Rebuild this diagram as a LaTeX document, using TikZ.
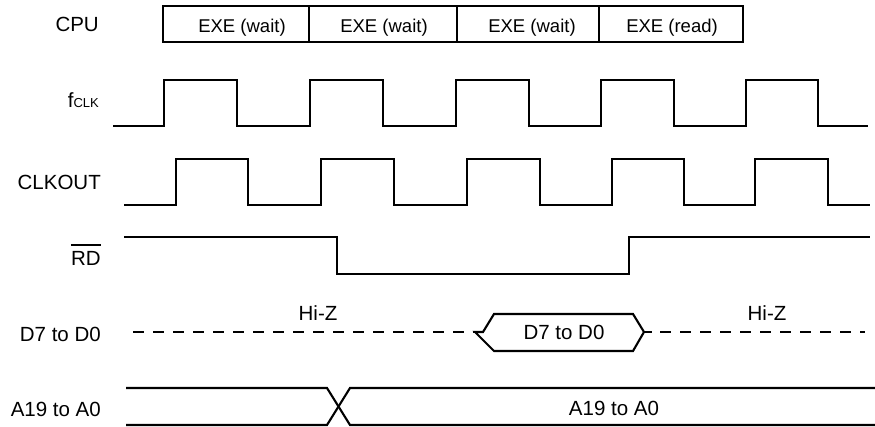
\documentclass[tikz,border=0pt]{standalone}
\usepackage{fontspec}
\setmainfont{Liberation Sans}
\begin{document}
\begin{tikzpicture}[x=1pt,y=-1pt,
  sig/.style={line width=2.1pt, line join=miter},
  busdash/.style={line width=2.1pt, dash pattern=on 11pt off 9pt},
  lbl/.style={font=\fontsize{20.5}{24}\selectfont, anchor=base east, inner sep=0pt},
  txt/.style={font=\fontsize{20.5}{24}\selectfont, anchor=base, inner sep=0pt},
  boxtxt/.style={font=\fontsize{18.5}{22}\selectfont, anchor=base, inner sep=0pt}]
\useasboundingbox (0,0) rectangle (875,427);

% labels
\node[lbl] (lcpu) at (99,31.5) {CPU};
\node[lbl] (lfclk) at (99,108) {f{\fontsize{13}{13}\selectfont CLK}};
\node[lbl] (lclkout) at (101,190) {CLKOUT};
\node[lbl] (lrd) at (101,265.5) {RD};
\draw[line width=1.6pt] ([yshift=6pt]lrd.north west) -- ([yshift=6pt]lrd.north east);
\node[lbl] (ld) at (101,341.5) {D7 to D0};
\node[lbl] (la) at (101,416.5) {A19 to A0};

% CPU cycles
\draw[sig] (163,6) rectangle (743,42);
\draw[sig] (309,6) -- (309,42);
\draw[sig] (457,6) -- (457,42);
\draw[sig] (599,6) -- (599,42);
\node[boxtxt] (c1) at (242,33) {EXE (wait)};
\node[boxtxt] (c2) at (384,33) {EXE (wait)};
\node[boxtxt] (c3) at (532,33) {EXE (wait)};
\node[boxtxt] (c4) at (672,33) {EXE (read)};

% fCLK
\draw[sig] (113,126) -| (164,80) -| (237,126) -| (310,80) -| (383,126) -| (456,80)
  -| (529,126) -| (601,80) -| (674,126) -| (746,80) -| (818,126) -- (868,126);

% CLKOUT
\draw[sig] (124,205) -| (176,159) -| (248,205) -| (321,159) -| (394,205) -| (467,159)
  -| (540,205) -| (612,159) -| (684,205) -| (755,159) -| (828,205) -- (870,205);

% RD
\draw[sig] (124,237) -| (337,274) -| (629,237) -- (870,237);

% D7 to D0
\draw[busdash] (133,332) -- (483,332);
\draw[sig] (475,332) -- (483,332) -- (494,314) -- (633,314) -- (644,332) -- (633,351) -- (494,351) -- cycle;
\draw[sig] (644,332) -- (652,332);
\draw[busdash] (660,332) -- (865,332);
\node[txt] (hz1) at (318,321) {Hi-Z};
\node[txt] (hz2) at (767,321) {Hi-Z};
\node[txt] (dd) at (564,340) {D7 to D0};

% A19 to A0
\draw[sig] (126,388) -- (327,388) -- (350,425) -- (875,425);
\draw[sig] (126,425) -- (327,425) -- (350,388) -- (875,388);
\node[txt] (aa) at (614,415) {A19 to A0};
\end{tikzpicture}
\end{document}
